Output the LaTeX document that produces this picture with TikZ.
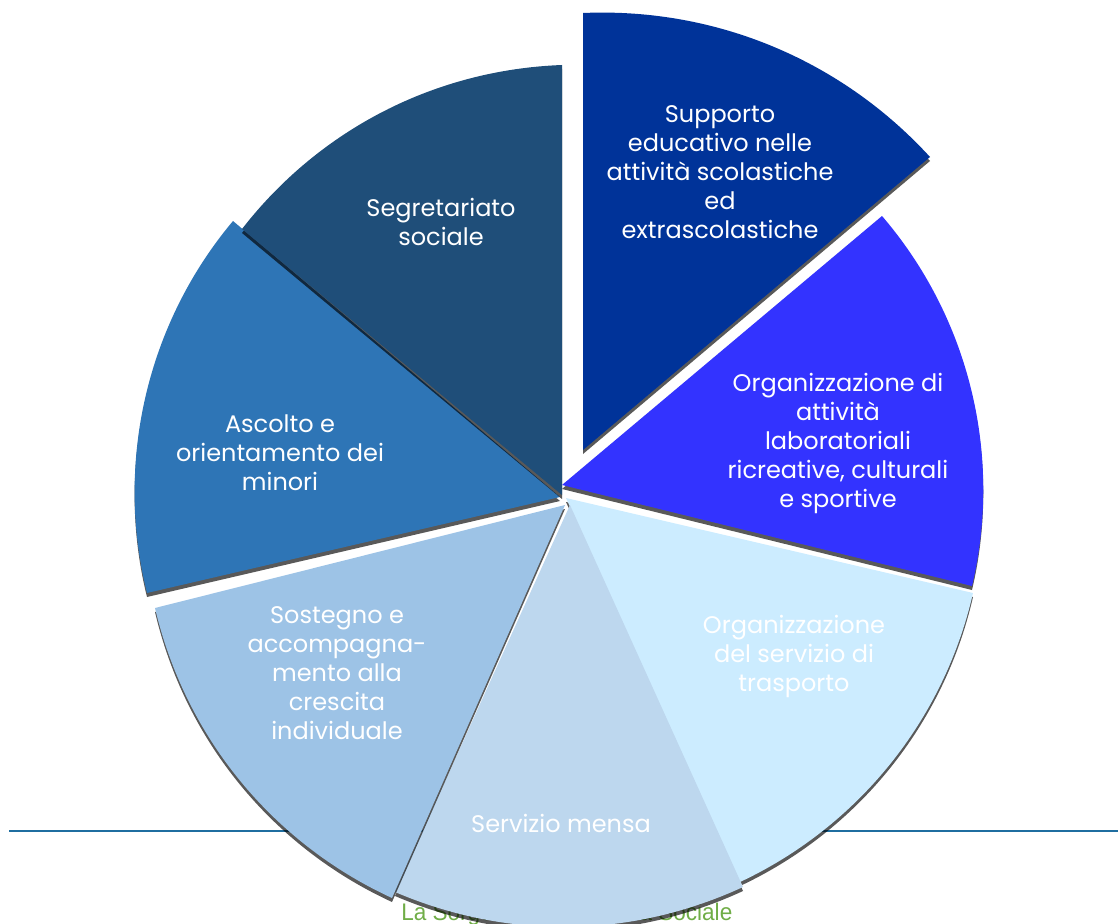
\documentclass[tikz,border=0pt]{standalone}
\usepackage{fontspec}
\setmainfont{Poppins}
\newfontfamily\footerfont[FakeStretch=0.94]{Liberation Sans}
\usepackage{xcolor}
\usepackage{tikz}
\usetikzlibrary{shadows}

\definecolor{supporto}{RGB}{0,51,153}
\definecolor{laboratori}{RGB}{51,51,255}
\definecolor{trasporto}{RGB}{204,236,255}
\definecolor{mensa}{RGB}{189,215,238}
\definecolor{sostegno}{RGB}{157,195,230}
\definecolor{ascolto}{RGB}{46,117,182}
\definecolor{segretariato}{RGB}{31,78,121}
\definecolor{ruleblue}{RGB}{31,110,160}
\definecolor{footergreen}{RGB}{112,173,71}

\begin{document}
\begin{tikzpicture}[x=0.75pt,y=0.75pt,yscale=-1,xscale=1,
  slice/.style={drop shadow={shadow xshift=0pt,shadow yshift=-3pt,fill=black,opacity=0.65}},
  rim/.style={bend right=#1,looseness=0.9},
  label/.style={text=white,align=center,inner sep=0.75pt,font=\fontsize{18}{21.75}\selectfont}]
\useasboundingbox (0,0) rectangle (1118,924);

%Straight Lines [rule under the pie]
\coordinate (rule-l) at (9,831);
\coordinate (rule-r) at (1118,831);
\draw [ruleblue, line width=1.6pt] (rule-l) -- (rule-r);
% Text Node
\node (footer) at (401,920) [anchor=base west,inner sep=0pt,text=footergreen,font=\footerfont\fontsize{18}{21}\selectfont] {La Sorgente Cooperativa Sociale};

%Shape: Pie [trasporto]
\fill [slice, trasporto] (566,498) -- (973,593) to[rim=26] (740,882) -- cycle;
%Shape: Pie [mensa]
\fill [slice, mensa] (570,505) -- (743,887) to[rim=24] (395,892) -- cycle;
%Shape: Pie [sostegno]
\fill [slice, sostegno] (565,505) -- (392,898) to[rim=26] (155,608) -- cycle;
%Shape: Pie [ascolto]
\fill [slice, ascolto] (560,497) -- (147,593) to[rim=27] (233,221) -- cycle;
%Shape: Pie [segretariato]
\fill [slice, segretariato] (562,495) -- (242,229) to[rim=25] (562,65) -- cycle;
%Shape: Pie [laboratori]
\fill [slice, laboratori] (562,485) -- (882,216) to[rim=27] (972,586) -- cycle;
%Shape: Pie [supporto]
\fill [slice, supporto] (583,450) -- (583,13) to[rim=25] (930,157) -- cycle;

% Text Node
\node (t-supporto) at (720,172) [label] {Supporto\\educativo nelle\\attività scolastiche\\ed\\extrascolastiche};
% Text Node
\node (t-laboratori) at (838,443) [label] {Organizzazione di\\attività\\laboratoriali\\ricreative, culturali\\e sportive};
% Text Node
\node (t-trasporto) at (794,656) [label] {Organizzazione\\del servizio di\\trasporto};
% Text Node
\node (t-mensa) at (561,823) [label] {Servizio mensa};
% Text Node
\node (t-sostegno) at (337,673) [label] {Sostegno e\\accompagna-\\mento alla\\crescita\\individuale};
% Text Node
\node (t-ascolto) at (280,453) [label] {Ascolto e\\orientamento dei\\minori};
% Text Node
\node (t-segretariato) at (441,222) [label] {Segretariato\\sociale};

\end{tikzpicture}
\end{document}
